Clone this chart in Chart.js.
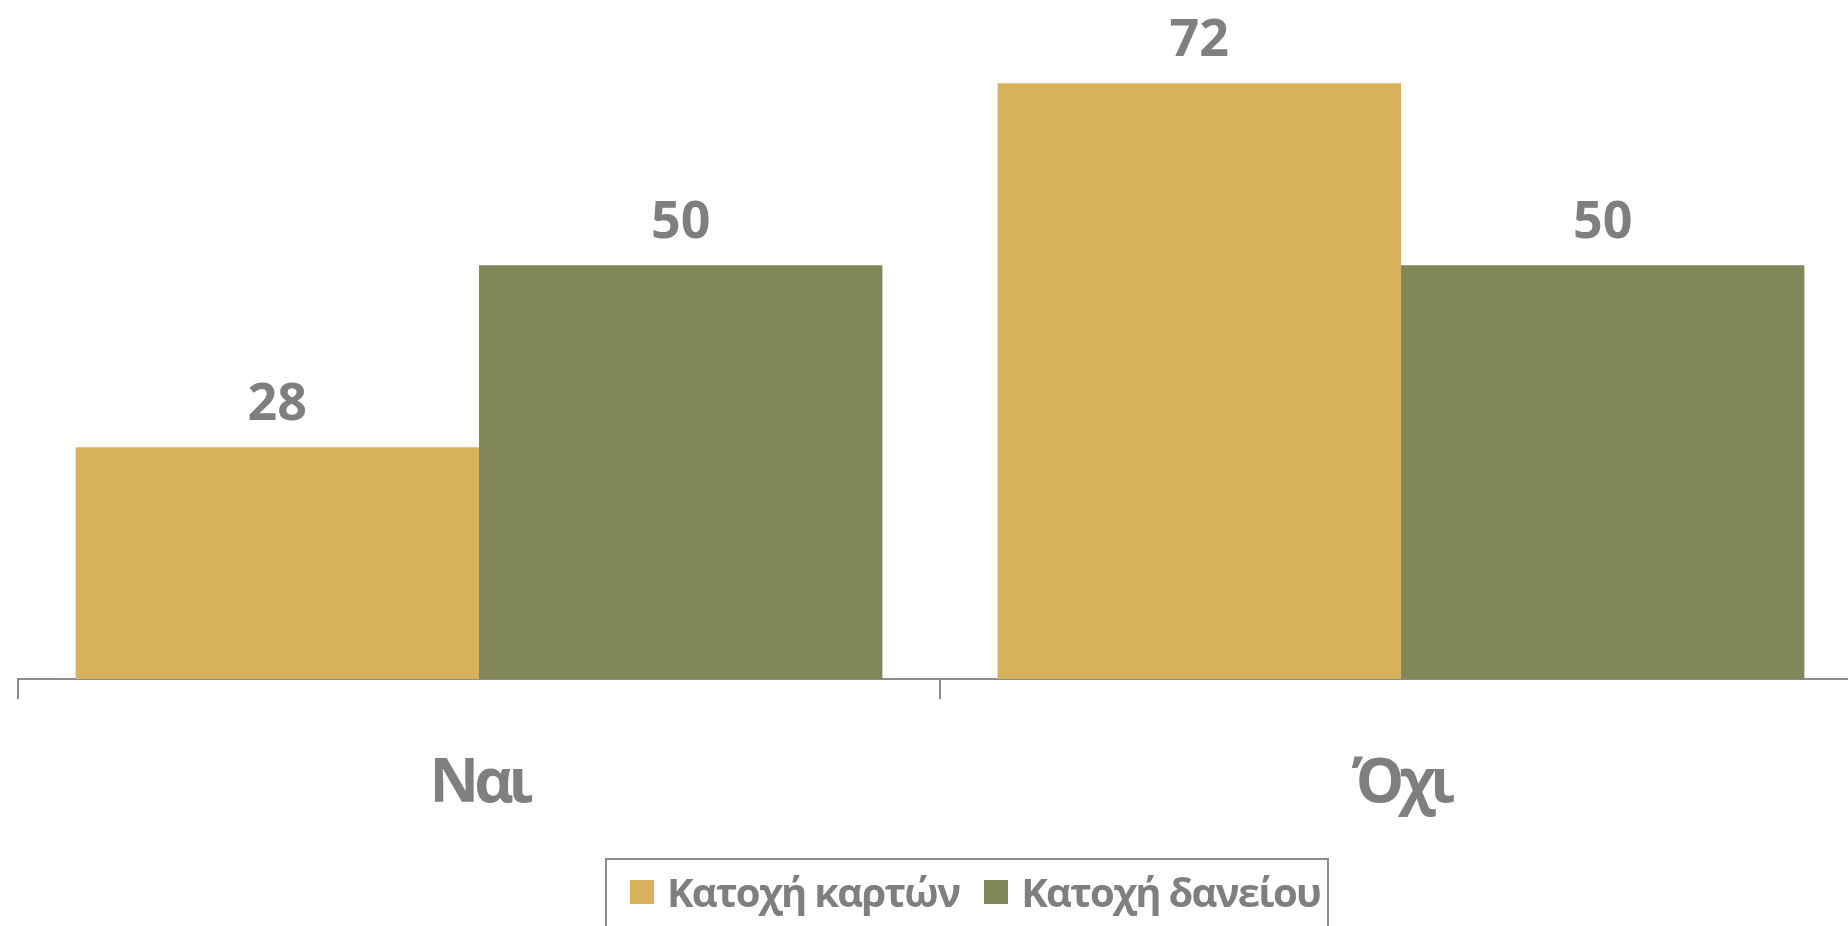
<!DOCTYPE html>
<html lang="el">
<head>
    <meta charset="UTF-8">
    <title>Κατοχή καρτών / δανείου</title>
    <style>
        html, body {
            margin: 0;
            padding: 0;
            background: #fff;
            overflow: hidden;
            width: 1848px;
            height: 926px;
        }

        .wrap {
            position: relative;
            width: 1880px;
            height: 926px;
        }

        /* legend box, bottom edge runs off the picture like in the original */
        .legend {
            position: absolute;
            left: 605px;
            top: 858px;
            width: 724px;
            height: 120px;
            border: 2px solid #8c8c8c;
            display: flex;
            align-items: flex-start;
            padding: 4px 0 0 23px;
            box-sizing: border-box;
            font-family: 'Open Sans', sans-serif;
            font-weight: 700;
            font-size: 40px;
            letter-spacing: -1.7px;
            color: #7f7f7f;
            white-space: nowrap;
        }

        .legend .item {
            display: flex;
            align-items: center;
            margin-right: 25px;
        }

        .legend .box {
            width: 24px;
            height: 24px;
            margin-right: 13px;
        }
    </style>
</head>
<body>
    <div class="wrap">
        <canvas id="chart" width="1880" height="926"></canvas>
        <div class="legend" id="legend"></div>
    </div>

    <script src="https://cdn.jsdelivr.net/npm/chart.js"></script>
    <script>
        const categories = ['Ναι', 'Όχι'];
        const seriesNames = ['Κατοχή καρτών', 'Κατοχή δανείου'];
        const cardValues = [28, 72];
        const loanValues = [50, 50];
        const seriesColors = ['#d8b15d', '#82875a'];

        const textGrey = '#7f7f7f';
        const lineGrey = '#8c8c8c';

        // tighter letters for the category labels (original font is narrower)
        const tightText = {
            id: 'tightText',
            beforeDraw(chart) {
                chart.ctx.letterSpacing = '-5px';
            },
            afterDraw(chart) {
                chart.ctx.letterSpacing = '0px';
            }
        };

        // value labels above each bar
        const barLabels = {
            id: 'barLabels',
            afterDatasetsDraw(chart) {
                const ctx = chart.ctx;
                ctx.save();
                ctx.letterSpacing = '0px';
                ctx.font = 'bold 52px "Open Sans"';
                ctx.fillStyle = textGrey;
                ctx.textAlign = 'center';
                ctx.textBaseline = 'alphabetic';
                chart.data.datasets.forEach((ds, i) => {
                    chart.getDatasetMeta(i).data.forEach((bar, j) => {
                        ctx.fillText(ds.data[j], bar.x, bar.y - 27);
                    });
                });
                ctx.restore();
            }
        };

        const chart = new Chart(document.getElementById('chart'), {
            type: 'bar',
            data: {
                labels: categories,
                datasets: [
                    { label: seriesNames[0], data: cardValues, backgroundColor: seriesColors[0] },
                    { label: seriesNames[1], data: loanValues, backgroundColor: seriesColors[1] }
                ]
            },
            options: {
                responsive: false,
                animation: false,
                categoryPercentage: 0.875,
                barPercentage: 1.0,
                layout: {
                    padding: { left: 18, right: 18, top: 17, bottom: 0 }
                },
                plugins: {
                    legend: { display: false },
                    tooltip: { enabled: false }
                },
                scales: {
                    x: {
                        offset: true,
                        grid: {
                            offset: true,
                            drawOnChartArea: false,
                            drawTicks: true,
                            tickLength: 20,
                            color: lineGrey,
                            lineWidth: 2
                        },
                        border: { display: true, color: lineGrey, width: 2 },
                        ticks: {
                            color: textGrey,
                            padding: 49,
                            font: { family: '"Open Sans"', size: 61, weight: 'bold' }
                        },
                        afterFit(scale) {
                            scale.height = 247;
                        }
                    },
                    y: {
                        display: false,
                        min: 0,
                        max: 80
                    }
                }
            },
            plugins: [tightText, barLabels]
        });

        // legend drawn as html so it can sit off-centre with a border
        const legend = document.getElementById('legend');
        seriesNames.forEach((name, i) => {
            const item = document.createElement('div');
            item.className = 'item';
            item.innerHTML = '<span class="box" style="background:' + seriesColors[i] + '"></span><span>' + name + '</span>';
            legend.appendChild(item);
        });
    </script>
</body>
</html>
